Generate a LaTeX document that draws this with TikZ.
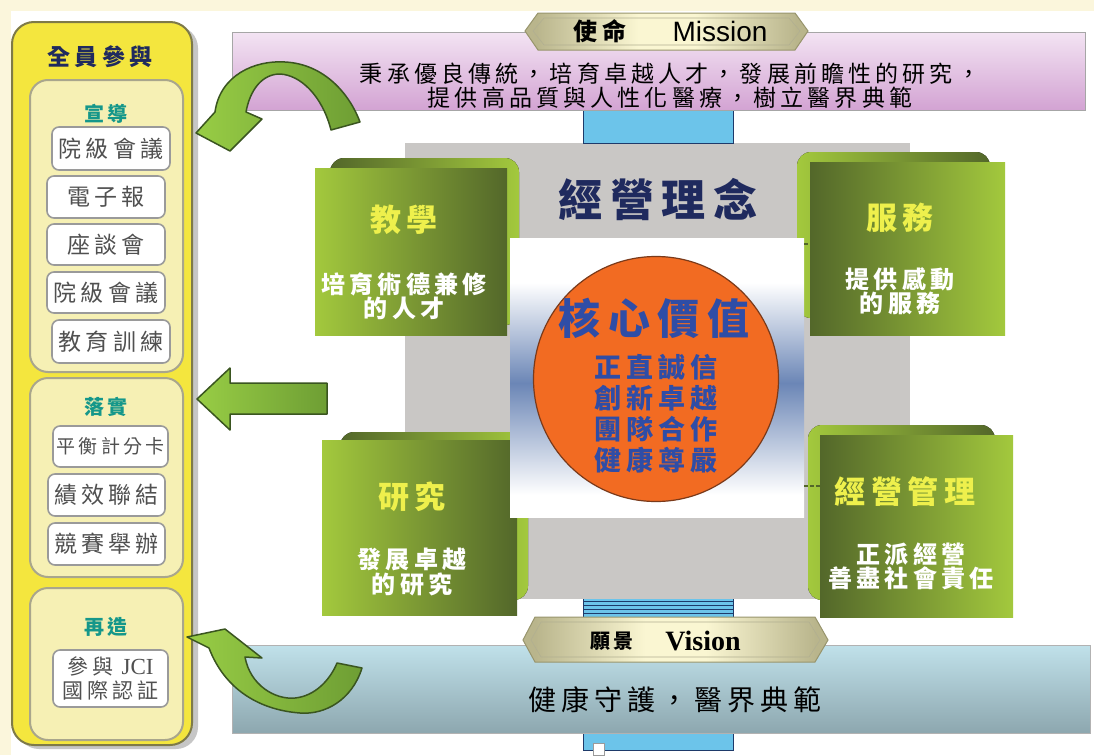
\documentclass[tikz,border=0pt]{standalone}
\usepackage{fontspec}
\setmainfont{Liberation Serif}
\newfontfamily\cjk{Noto Sans CJK TC}
\newfontfamily\cjks[LetterSpace=18]{Noto Sans CJK TC}
\newfontfamily\arialf{Liberation Sans}
\definecolor{cream}{HTML}{FBF6DC}
\definecolor{pyellow}{HTML}{F4E63E}
\definecolor{pborder}{HTML}{7E7A48}
\definecolor{secfill}{HTML}{F6F0B4}
\definecolor{secborder}{HTML}{A9A68C}
\definecolor{boxgray}{HTML}{9A9A9A}
\definecolor{boxtext}{HTML}{505050}
\definecolor{navy}{HTML}{1F2A5E}
\definecolor{teal}{HTML}{15978A}
\definecolor{mtop}{HTML}{F3E4F3}
\definecolor{mbot}{HTML}{D3A3D3}
\definecolor{vtop}{HTML}{C0E1EA}
\definecolor{vbot}{HTML}{8DA7AF}
\definecolor{kh}{HTML}{B9B58C}
\definecolor{pale}{HTML}{FAF6D2}
\definecolor{lblue}{HTML}{6CC4EA}
\definecolor{dblue}{HTML}{1E3A6A}
\definecolor{sqgray}{HTML}{C9C7C5}
\definecolor{cb}{HTML}{6B86B6}
\definecolor{corange}{HTML}{F26B22}
\definecolor{cborder}{HTML}{7A3A1A}
\definecolor{cvblue}{HTML}{2F4DA6}
\definecolor{glight}{HTML}{A3C93D}
\definecolor{gdark}{HTML}{53672A}
\definecolor{gtitle}{HTML}{EEF04C}
\definecolor{alight}{HTML}{98CD45}
\definecolor{adark}{HTML}{6E9E34}
\definecolor{aline}{HTML}{3A5520}
\usetikzlibrary{shapes.geometric}
\pgfdeclareverticalshading{cblue}{100bp}{color(0bp)=(white); color(29bp)=(white); color(40bp)=(cb!55!white); color(49bp)=(cb); color(57bp)=(cb!55!white); color(67bp)=(white); color(100bp)=(white)}
\pgfdeclarehorizontalshading{labsh}{100bp}{color(0bp)=(kh); color(27bp)=(kh); color(45bp)=(pale); color(55bp)=(pale); color(73bp)=(kh); color(100bp)=(kh)}
\tikzset{
  wbox/.style={draw=boxgray, line width=1.6, fill=white, rounded corners=7, inner sep=0},
  boxtxt/.style={text=boxtext, inner sep=0, font=\cjks\fontsize{23}{25}\selectfont},
  sec/.style={draw=secborder, line width=2, fill=secfill, rounded corners=18},
  sectitle/.style={text=teal, inner sep=0, font=\cjks\bfseries\fontsize{20}{22}\selectfont},
  gface/.style={inner sep=0},
  gttl/.style={text=gtitle, inner sep=0, font=\cjks\bfseries\fontsize{31}{33}\selectfont},
  gsub/.style={text=white, inner sep=0, align=center, font=\cjks\bfseries\fontsize{24}{23}\selectfont},
  grarrow/.style={left color=alight, right color=adark, draw=aline, line width=1.5, line join=round},
  lab/.style={shading=labsh, draw=pborder!80, line width=1},
}
\begin{document}
\begin{tikzpicture}[x=1pt,y=-1pt]
\useasboundingbox (0,0) rectangle (1094,755);
\fill[white] (0,0) rectangle (1094,755);
\fill[cream] (0,0) rectangle (1094,11);
\fill[cream] (0,0) rectangle (11,755);

% gray square
\fill[sqgray] (405,143) rectangle (910,599);

% blue bars
\draw[fill=lblue, draw=dblue, line width=0.8] (583,110) rectangle (733,143);
\fill[lblue] (583,599) rectangle (733,617);
\foreach \yy in {601,605,609,613,617} \draw[dblue, line width=1] (583,\yy) -- (733,\yy);
\draw[dblue, line width=1] (583,599) -- (583,617) (733,599) -- (733,617);
\draw[fill=lblue, draw=dblue, line width=0.8] (583,733) rectangle (733,750);
\draw[boxgray, line width=0.8, fill=white] (593,743) rectangle (604,755);

% mission band
\node[draw=gray!70, line width=1, top color=mtop, bottom color=mbot, minimum width=853, minimum height=78, inner sep=0] (mband) at (658.5,71) {};
\node[inner sep=0, align=center, font=\cjks\fontsize{23}{24}\selectfont] (mtext) at (670,86) {秉承優良傳統，培育卓越人才，發展前瞻性的研究，\\提供高品質與人性化醫療，樹立醫界典範};
% mission label
\path[lab] (525,31) -- (538,13) -- (795,13) -- (808,31) -- (795,50) -- (538,50) -- cycle;
\draw[pborder!60, line width=0.6] (533,31) -- (544,18) -- (789,18) -- (800,31) -- (789,45) -- (544,45) -- cycle;
\node[inner sep=0, font=\cjks\bfseries\fontsize{24}{26}\selectfont] (mlabcn) at (600,31) {使命};
\node[inner sep=0, font=\arialf\fontsize{28}{30}\selectfont] (mlaben) at (720,31) {Mission};

% green boxes: back panels
\fill[rounded corners=14, left color=gdark, right color=glight] (330,158) rectangle (519,325);
\fill[rounded corners=14, left color=glight, right color=gdark] (797,152) rectangle (990,318);
\fill[rounded corners=14, left color=gdark, right color=glight] (340,432) rectangle (528,600);
\fill[rounded corners=14, left color=glight, right color=gdark] (808,425) rectangle (995,600);
% front faces
\node[gface, left color=glight, right color=gdark, minimum width=192, minimum height=167] (teach) at (411,251.5) {};
\node[gface, left color=gdark, right color=glight, minimum width=195, minimum height=173] (serv) at (907.5,248.5) {};
\node[gface, left color=glight, right color=gdark, minimum width=195, minimum height=175] (res) at (419.5,527.5) {};
\node[gface, left color=gdark, right color=glight, minimum width=193, minimum height=182] (mgmt) at (916.5,526) {};
\node[gttl] (teachT) at (404,220) {教學};
\node[gsub] (teachS) at (404,296) {培育術德兼修\\的人才};
\node[gttl] (servT) at (900,218) {服務};
\node[gsub] (servS) at (900,291) {提供感動\\的服務};
\node[gttl] (resT) at (412,497) {研究};
\node[gsub] (resS) at (412,572) {發展卓越\\的研究};
\node[gttl] (mgmtT) at (905,492) {經營管理};
\node[gsub] (mgmtS) at (911,566) {正派經營\\善盡社會責任};

% title
\node[inner sep=0, text=navy, font=\cjks\bfseries\fontsize{44}{46}\selectfont] (philo) at (658,200) {經營理念};

% central rect and circle
\node[shading=cblue, minimum width=294, minimum height=279, inner sep=0] (center) at (657,377.5) {};
\node[circle, draw=cborder, line width=1.2, fill=corange, minimum size=245, inner sep=0] (core) at (656,379) {};
\node[inner sep=0, text=cvblue, font=\cjks\bfseries\fontsize{42}{44}\selectfont] (coreT) at (654,318) {核心價值};
\node[inner sep=0, text=cvblue, align=center, font=\cjks\bfseries\fontsize{27}{31}\selectfont] (coreL) at (656,414) {正直誠信\\創新卓越\\團隊合作\\健康尊嚴};
\draw[gdark, line width=1.5, dash pattern=on 4pt off 2pt] (center.east |- 0,244) -- (serv.west |- 0,244);
\draw[gdark, line width=1.5, dash pattern=on 4pt off 2pt] (center.east |- 0,486) -- (mgmt.west |- 0,486);

% vision band
\node[draw=gray!60, line width=1, top color=vtop, bottom color=vbot, minimum width=858, minimum height=88, inner sep=0] (vband) at (661,689) {};
\node[inner sep=0, font=\cjks\fontsize{28}{30}\selectfont] (vtext) at (675,700) {健康守護，醫界典範};
\path[lab] (523,640) -- (535,617) -- (815,617) -- (828,640) -- (815,662) -- (535,662) -- cycle;
\draw[pborder!60, line width=0.6] (531,640) -- (541,622) -- (809,622) -- (820,640) -- (809,657) -- (541,657) -- cycle;
\node[inner sep=0, font=\cjks\bfseries\fontsize{20}{22}\selectfont] (vlabcn) at (612,641) {願景};
\node[inner sep=0, font=\bfseries\fontsize{28}{30}\selectfont] (vlaben) at (703,641) {Vision};

% left panel
\fill[gray!45, rounded corners=22] (17,26) rectangle (198,749);
\draw[draw=pborder, line width=2, fill=pyellow, rounded corners=22] (12,22) rectangle (192,745);
\node[inner sep=0, text=navy, font=\cjks\bfseries\fontsize{23}{25}\selectfont] (all) at (100,57) {全員參與};
\draw[sec] (30,80) rectangle (183,372);
\draw[sec] (30,378) rectangle (183,577);
\draw[sec] (30,588) rectangle (183,740);
\node[sectitle] (s1) at (106,114) {宣導};
\node[sectitle] (s2) at (106,407) {落實};
\node[sectitle] (s3) at (106,627) {再造};
\node[wbox, minimum width=118, minimum height=43] (b1) at (111,148.5) {};
\node[boxtxt] at (b1) {院級會議};
\node[wbox, minimum width=118, minimum height=42] (b2) at (106,197) {};
\node[boxtxt] at (b2) {電子報};
\node[wbox, minimum width=118, minimum height=41] (b3) at (106,244.5) {};
\node[boxtxt] at (b3) {座談會};
\node[wbox, minimum width=118, minimum height=41] (b4) at (106,292.5) {};
\node[boxtxt] at (b4) {院級會議};
\node[wbox, minimum width=118, minimum height=43] (b5) at (111,341.5) {};
\node[boxtxt] at (b5) {教育訓練};
\node[wbox, minimum width=115, minimum height=41] (c1) at (110.5,446.5) {};
\node[boxtxt, font=\cjks\fontsize{19}{21}\selectfont] at (c1) {平衡計分卡};
\node[wbox, minimum width=117, minimum height=42] (c2) at (106.5,495) {};
\node[boxtxt] at (c2) {績效聯結};
\node[wbox, minimum width=117, minimum height=42] (c3) at (106.5,544) {};
\node[boxtxt] at (c3) {競賽舉辦};
\node[wbox, minimum width=115, minimum height=57] (d1) at (110.5,678.5) {};
\node[boxtxt, align=center, font=\cjks\fontsize{21}{24}\selectfont] at (d1) {參與 {\rmfamily\fontsize{23}{24}\selectfont JCI}\\國際認証};

% arrows
\path[grarrow] (215,112) .. controls (220,75) and (255,60) .. (285,62) .. controls (325,64) and (350,95) .. (360,122)
  -- (331,130) .. controls (322,95) and (300,75) .. (280,74) .. controls (262,74) and (250,90) .. (246,112)
  -- (262,119) -- (230,151) -- (196,133) -- cycle;
\path[grarrow] (197,399) -- (230,368) -- (230,383) -- (327,383) -- (327,414) -- (230,414) -- (230,430) -- cycle;
\path[grarrow] (187,637) -- (225,629) -- (262,658) -- (245,657) .. controls (250,685) and (275,700) .. (295,698)
  .. controls (315,696) and (330,680) .. (337,663) -- (362,668) .. controls (352,700) and (325,715) .. (300,713)
  .. controls (260,710) and (225,690) .. (209,648) -- cycle;
\end{tikzpicture}
\end{document}
